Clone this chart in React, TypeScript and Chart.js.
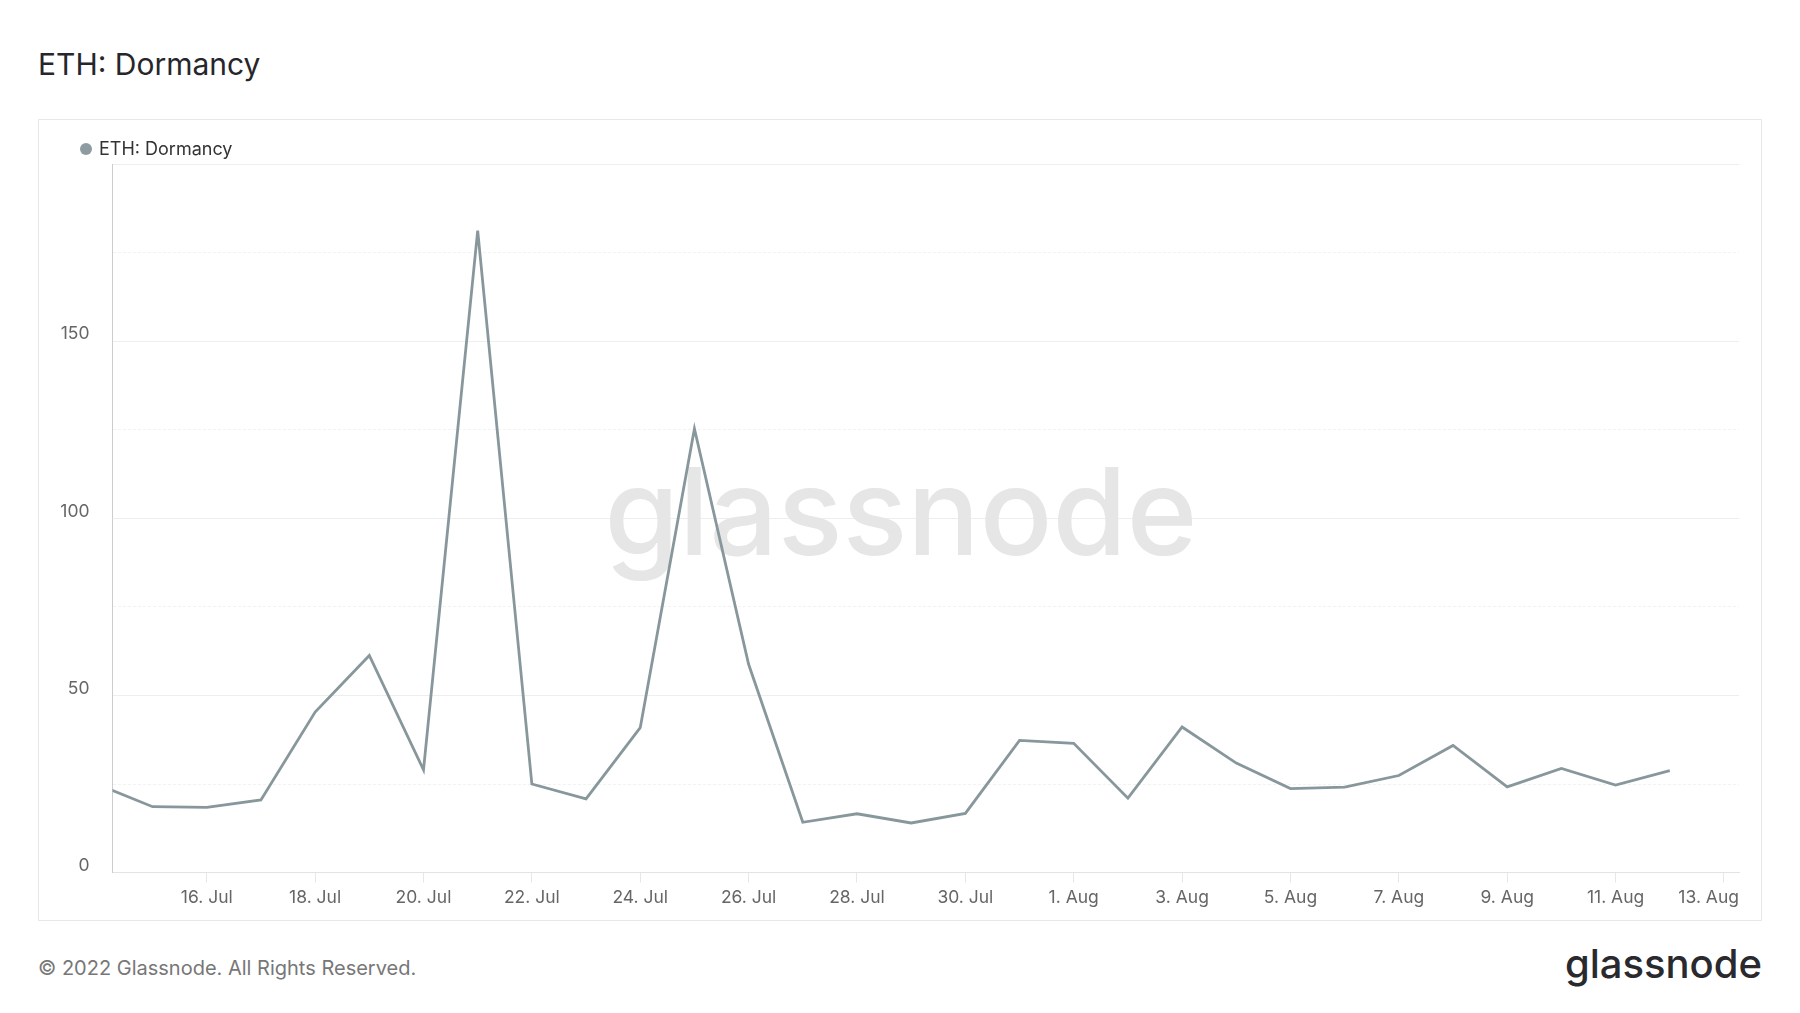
import React, { useEffect, useRef } from 'react';
import { Chart, registerables } from 'chart.js';

Chart.register(...registerables);

// ---------- data ----------
const dates = [
  '2022-07-14', '2022-07-15', '2022-07-16', '2022-07-17', '2022-07-18', '2022-07-19',
  '2022-07-20', '2022-07-21', '2022-07-22', '2022-07-23', '2022-07-24', '2022-07-25',
  '2022-07-26', '2022-07-27', '2022-07-28', '2022-07-29', '2022-07-30', '2022-07-31',
  '2022-08-01', '2022-08-02', '2022-08-03', '2022-08-04', '2022-08-05', '2022-08-06',
  '2022-08-07', '2022-08-08', '2022-08-09', '2022-08-10', '2022-08-11', '2022-08-12',
];
const dormancy = [
  24.8, 18.6, 18.4, 20.5, 45.3, 61.3,
  29.0, 181.2, 25.0, 20.8, 40.9, 125.3,
  58.8, 14.2, 16.6, 14.0, 16.7, 37.3,
  36.5, 21.0, 41.1, 30.9, 23.7, 24.1,
  27.4, 35.9, 24.2, 29.4, 24.7, 28.8,
];
const viewStart = '2022-07-14T06:15:00Z';
const viewEnd = '2022-08-13T06:40:00Z';
const monthNames = ['Jan', 'Feb', 'Mar', 'Apr', 'May', 'Jun', 'Jul', 'Aug', 'Sep', 'Oct', 'Nov', 'Dec'];
const xTickStepDays = 2;
const yMin = 0;
const yMax = 200;
const yGridStep = 25;
const yLabelStep = 50;
const seriesName = 'ETH: Dormancy';
const titleText = 'ETH: Dormancy';
const copyrightText = '© 2022 Glassnode. All Rights Reserved.';
const brandText = 'glassnode';

// ---------- helpers ----------
const DAY = 864e5;
const origin = Date.parse(dates[0] + 'T00:00:00Z');
const toDay = (s: string) => (Date.parse(s.length === 10 ? s + 'T00:00:00Z' : s) - origin) / DAY;
const fmtDay = (v: number) => {
  const d = new Date(origin + Math.round(v) * DAY);
  return `${d.getUTCDate()}. ${monthNames[d.getUTCMonth()]}`;
};

const LINE_COLOR = '#88979c';
const FONT = 'Inter';
const TICK_FONT_SIZE = 17.5;
const TICK_LEN = 10;
const TICK_PAD = 4.5;

const watermarkPlugin = {
  id: 'watermark',
  beforeDatasetsDraw(chart: any) {
    const ctx = chart.ctx;
    ctx.save();
    ctx.font = `500 100px ${FONT}`;
    const w = ctx.measureText(brandText).width;
    const size = (100 * 593) / w;
    ctx.font = `500 ${size}px ${FONT}`;
    ctx.fillStyle = '#e6e6e6';
    ctx.textAlign = 'center';
    ctx.textBaseline = 'alphabetic';
    ctx.fillText(brandText, 862, 435);
    ctx.restore();
  },
};

const lastLabelPlugin = {
  id: 'lastLabel',
  afterDraw(chart: any) {
    const xs = chart.scales.x;
    const ticks = xs.ticks;
    if (!ticks.length) return;
    const last = ticks[ticks.length - 1];
    const ctx = chart.ctx;
    ctx.save();
    ctx.font = `${TICK_FONT_SIZE}px ${FONT}`;
    const label = fmtDay(last.value);
    const w = ctx.measureText(label).width;
    const px = xs.getPixelForValue(last.value);
    const cx = Math.min(px, chart.chartArea.right - w / 2);
    ctx.fillStyle = '#666666';
    ctx.textAlign = 'center';
    ctx.textBaseline = 'middle';
    ctx.fillText(label, cx, xs.top + TICK_LEN + TICK_PAD + (TICK_FONT_SIZE * 1.2) / 2);
    ctx.restore();
  },
};

function DormancyChart() {
  const ref = useRef<HTMLCanvasElement | null>(null);
  useEffect(() => {
    if (!ref.current) return;
    Chart.defaults.font.family = FONT;
    const points = dates.map((d, i) => ({ x: toDay(d), y: dormancy[i] }));
    const chart = new Chart(ref.current, {
      type: 'line',
      data: {
        datasets: [
          {
            label: seriesName,
            data: points,
            borderColor: LINE_COLOR,
            backgroundColor: LINE_COLOR,
            borderWidth: 2.8,
            pointRadius: 0,
            tension: 0,
            fill: false,
          },
        ],
      },
      options: {
        responsive: false,
        animation: false,
        events: [],
        layout: { padding: { top: 44, right: 22, left: 0, bottom: 0 } },
        plugins: { legend: { display: false }, tooltip: { enabled: false }, title: { display: false } },
        scales: {
          x: {
            type: 'linear',
            min: toDay(viewStart),
            max: toDay(viewEnd),
            afterFit: (s: any) => { s.height = 47.4; },
            grid: {
              drawOnChartArea: false,
              drawTicks: true,
              tickLength: TICK_LEN,
              tickColor: '#e6e6e6',
              tickWidth: 1,
            },
            border: { display: true, color: '#e3e3e3', width: 1 },
            ticks: {
              stepSize: xTickStepDays,
              includeBounds: false,
              autoSkip: false,
              maxRotation: 0,
              padding: TICK_PAD,
              color: '#666666',
              font: { size: TICK_FONT_SIZE, family: FONT },
              callback: (v: any, i: number, arr: any[]) => (i === arr.length - 1 ? '' : fmtDay(Number(v))),
            },
          },
          y: {
            type: 'linear',
            min: yMin,
            max: yMax,
            afterFit: (s: any) => { s.width = 73.5; },
            grid: {
              drawTicks: false,
              color: (c: any) => (c.tick && c.tick.value % yLabelStep === 0 ? '#eeeeee' : '#f2f2f2'),
              lineWidth: 1,
            },
            border: {
              display: true,
              color: '#cccccc',
              width: 1,
              dash: (c: any) => (c.tick && c.tick.value % yLabelStep !== 0 ? [3, 2] : []),
            },
            ticks: {
              stepSize: yGridStep,
              padding: 23,
              labelOffset: -7,
              color: '#666666',
              font: { size: TICK_FONT_SIZE, family: FONT },
              callback: (v: any) => {
                const n = Number(v);
                return n % yLabelStep === 0 && n < yMax ? String(n) : '';
              },
            },
          },
        },
      } as any,
      plugins: [watermarkPlugin, lastLabelPlugin],
    });
    return () => chart.destroy();
  }, []);
  return (
    <canvas
      ref={ref}
      width={1722}
      height={800}
      style={{ position: 'absolute', left: 0, top: 0, width: 1722, height: 800 }}
    />
  );
}

export default function App() {
  return (
    <div
      style={{
        position: 'absolute',
        left: 0,
        top: 0,
        width: 1800,
        height: 1013,
        background: '#ffffff',
        fontFamily: FONT,
        overflow: 'hidden',
      }}
    >
      <div
        style={{
          position: 'absolute', left: 38, top: 49, fontSize: 30, lineHeight: '30px',
          color: '#26262b', whiteSpace: 'nowrap',
        }}
      >
        {titleText}
      </div>
      <div
        style={{
          position: 'absolute', left: 38, top: 119, width: 1724, height: 802,
          boxSizing: 'border-box', border: '1px solid #e8e8e8',
        }}
      >
        <DormancyChart />
        <div
          style={{
            position: 'absolute', left: 41, top: 20, height: 18, display: 'flex', alignItems: 'center',
            fontSize: 18, lineHeight: '18px', color: '#333333', whiteSpace: 'nowrap',
          }}
        >
          <span
            style={{
              display: 'inline-block', width: 12, height: 12, borderRadius: 6,
              background: '#8e9ba0', marginRight: 7,
            }}
          />
          <span>{seriesName}</span>
        </div>
      </div>
      <div
        style={{
          position: 'absolute', left: 38, top: 958, fontSize: 20, lineHeight: '20px',
          color: '#777777', whiteSpace: 'nowrap',
        }}
      >
        {copyrightText}
      </div>
      <div
        style={{
          position: 'absolute', right: 38, top: 944, fontSize: 40, lineHeight: '40px',
          fontWeight: 500, color: '#2a2a2e', whiteSpace: 'nowrap',
        }}
      >
        {brandText}
      </div>
    </div>
  );
}
